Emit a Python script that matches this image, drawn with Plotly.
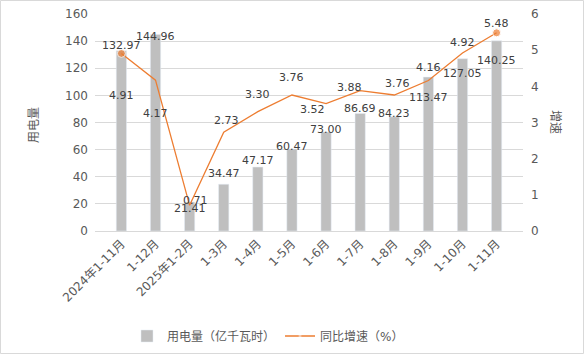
import plotly.graph_objects as go
from plotly.subplots import make_subplots

categories = ["2024年1-11月", "1-12月", "2025年1-2月", "1-3月", "1-4月", "1-5月",
              "1-6月", "1-7月", "1-8月", "1-9月", "1-10月", "1-11月"]
usage = [132.97, 144.96, 21.41, 34.47, 47.17, 60.47, 73.00, 86.69, 84.23, 113.47, 127.05, 140.25]
growth = [4.91, 4.17, 0.71, 2.73, 3.30, 3.76, 3.52, 3.88, 3.76, 4.16, 4.92, 5.48]

# label offsets (pixels) to mimic the reference placement
bar_label_dy = [5, -2, -7, 11, 7, 2, 2, 5, 3, -20, -15, -20]
line_label_dy = [-42, -33, 5, 12, 17, 18, -6, 3, 12, 13, 11, 9]
line_label_dx = [0, 0, 6, 3, 0, 0, -14, -11, 3, 0, 0, 0]

FONT = "DejaVu Sans, Noto Sans CJK SC, sans-serif"
GREY = "#595959"
ORANGE = "#ED7D31"

L, R, T, B = 95, 61, 14, 124
PW, PH = 584 - L - R, 355 - T - B

fig = make_subplots(specs=[[{"secondary_y": True}]])
fig.add_trace(go.Bar(x=categories, y=usage, name="用电量（亿千瓦时）",
                     marker_color="#BFBFBF", width=0.3), secondary_y=False)
msize = [8] + [0] * (len(growth) - 2) + [8]
fig.add_trace(go.Scatter(x=categories, y=growth, name="同比增速（%）", mode="lines+markers",
                         line=dict(color=ORANGE, width=1.3),
                         marker=dict(color=ORANGE, size=msize)), secondary_y=True)

ann = []
for c, v, dy in zip(categories, usage, bar_label_dy):
    ann.append(dict(x=c, y=v, xref="x", yref="y", text=f"{v:.2f}", showarrow=False,
                    yanchor="middle", yshift=dy, font=dict(size=11, color="#404040", family=FONT)))
for c, v, dy, dx in zip(categories, growth, line_label_dy, line_label_dx):
    ann.append(dict(x=c, y=v, xref="x", yref="y2", text=f"{v:.2f}", showarrow=False,
                    yanchor="middle", yshift=dy, xshift=dx, font=dict(size=11, color="#404040", family=FONT)))
# axis titles
ann.append(dict(x=(25 - L) / PW, y=(T + PH - 125) / PH, xref="paper", yref="paper", text="用电量",
                showarrow=False, textangle=-90, font=dict(size=12, color=GREY, family=FONT)))
ann.append(dict(x=(564 - L) / PW, y=(T + PH - 122) / PH, xref="paper", yref="paper", text="增速",
                showarrow=False, textangle=90, font=dict(size=12, color=GREY, family=FONT)))

fig.update_layout(
    width=584, height=355,
    margin=dict(l=L, r=R, t=T, b=B, autoexpand=False),
    paper_bgcolor="white", plot_bgcolor="white",
    font=dict(family=FONT, color=GREY, size=12),
    showlegend=True,
    legend=dict(orientation="h", x=(127 - L) / PW, xanchor="left", y=(T + PH - 336) / PH,
                yanchor="middle", font=dict(size=12, color=GREY), itemwidth=30),
    annotations=ann,
    shapes=[dict(type="rect", xref="paper", yref="paper",
                 x0=-(L - 0.5) / PW, x1=(583.5 - L) / PW,
                 y0=-(B - 1.5) / PH, y1=(T + PH - 0.5) / PH,
                 line=dict(color="#D9D9D9", width=1))],
)
fig.update_xaxes(domain=[0, 1], tickangle=-45, tickfont=dict(size=12, color=GREY), showline=True,
                 linecolor="#D9D9D9", ticks="", automargin=False)
fig.update_yaxes(range=[0, 160], dtick=20, gridcolor="#D9D9D9", zeroline=False,
                 tickfont=dict(size=12, color=GREY), automargin=False, ticklabelstandoff=6,
                 secondary_y=False)
fig.update_yaxes(range=[0, 6], dtick=1, showgrid=False, zeroline=False,
                 tickfont=dict(size=12, color=GREY), automargin=False, ticklabelstandoff=7,
                 secondary_y=True)

fig.write_html("out.html", config={"displayModeBar": False},
               post_script="document.body.style.margin='0';")
